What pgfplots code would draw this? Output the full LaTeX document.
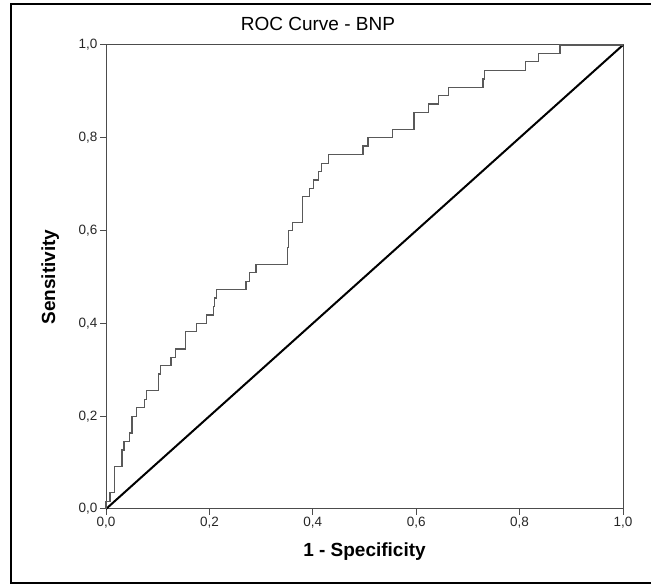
\documentclass[border=0pt]{standalone}
\usepackage{fontspec}
\setmainfont{Liberation Sans}
\usepackage{pgfplots}
\pgfplotsset{compat=1.18}

\begin{document}
\begin{tikzpicture}[x=1pt,y=1pt]
\useasboundingbox (0,0) rectangle (651,586);
% outer chart frame (open on the right, as in the export)
\draw[line width=2pt] (652,582) -- (11,582) -- (11,3) -- (652,3);
\begin{axis}[
    at={(106pt,77pt)}, anchor=south west,
    scale only axis,
    width=517pt, height=464pt,
    xmin=0, xmax=1, ymin=0, ymax=1,
    axis line style={draw=black!70, line width=1pt},
    tick pos=left, tick align=outside,
    major tick length=6pt,
    tick style={draw=black!70, line width=1pt},
    xtick={0,0.2,0.4,0.6,0.8,1},
    ytick={0,0.2,0.4,0.6,0.8,1},
    xticklabels={{0,0},{0,2},{0,4},{0,6},{0,8},{1,0}},
    yticklabels={{0,0},{0,2},{0,4},{0,6},{0,8},{1,0}},
    ticklabel style={font=\fontsize{13.5}{14}\selectfont, text=black!85},
    xticklabel style={yshift=1pt},
    yticklabel style={xshift=1pt},
    title={ROC Curve - BNP},
    title style={font=\fontsize{19}{20}\selectfont, at={(axis description cs:0.41,1.032)}, anchor=center},
    xlabel={1 - Specificity},
    ylabel={Sensitivity},
    label style={font=\bfseries\fontsize{19}{20}\selectfont},
    xlabel style={at={(axis description cs:0.5,-0.091)}, anchor=center},
    ylabel style={at={(axis description cs:-0.108,0.5)}, anchor=center},
    clip=false,
]
% reference line
\addplot[black, line width=2pt] coordinates {(0,0) (1,1)};
% ROC step curve
\addplot[draw=black!65, line width=1.3pt] coordinates {
(0,0) (0,0.016) (0.008,0.016) (0.008,0.036) (0.017,0.036) (0.017,0.091)
(0.031,0.091) (0.031,0.127) (0.035,0.127) (0.035,0.145) (0.045,0.145) (0.045,0.164)
(0.050,0.164) (0.050,0.200) (0.059,0.200) (0.059,0.218) (0.075,0.218) (0.075,0.236)
(0.079,0.236) (0.079,0.255) (0.102,0.255) (0.102,0.291) (0.106,0.291) (0.106,0.309)
(0.126,0.309) (0.126,0.327) (0.135,0.327) (0.135,0.345) (0.154,0.345) (0.154,0.382)
(0.175,0.382) (0.175,0.400) (0.194,0.400) (0.194,0.418) (0.208,0.418) (0.208,0.436)
(0.210,0.436) (0.210,0.455) (0.214,0.455) (0.214,0.473) (0.271,0.473) (0.271,0.491)
(0.278,0.491) (0.278,0.509) (0.290,0.509) (0.290,0.527) (0.351,0.527) (0.351,0.564)
(0.353,0.564) (0.353,0.600) (0.361,0.600) (0.361,0.618) (0.380,0.618) (0.380,0.673)
(0.393,0.673) (0.393,0.691) (0.401,0.691) (0.401,0.709) (0.411,0.709) (0.411,0.727)
(0.417,0.727) (0.417,0.745) (0.430,0.745) (0.430,0.764) (0.497,0.764) (0.497,0.782)
(0.507,0.782) (0.507,0.800) (0.554,0.800) (0.554,0.818) (0.596,0.818) (0.596,0.855)
(0.624,0.855) (0.624,0.873) (0.643,0.873) (0.643,0.891) (0.662,0.891) (0.662,0.909)
(0.729,0.909) (0.729,0.927) (0.732,0.927) (0.732,0.945) (0.812,0.945) (0.812,0.964)
(0.836,0.964) (0.836,0.982) (0.878,0.982) (0.878,1.000) (1,1)
};
\end{axis}
\end{tikzpicture}
\end{document}
